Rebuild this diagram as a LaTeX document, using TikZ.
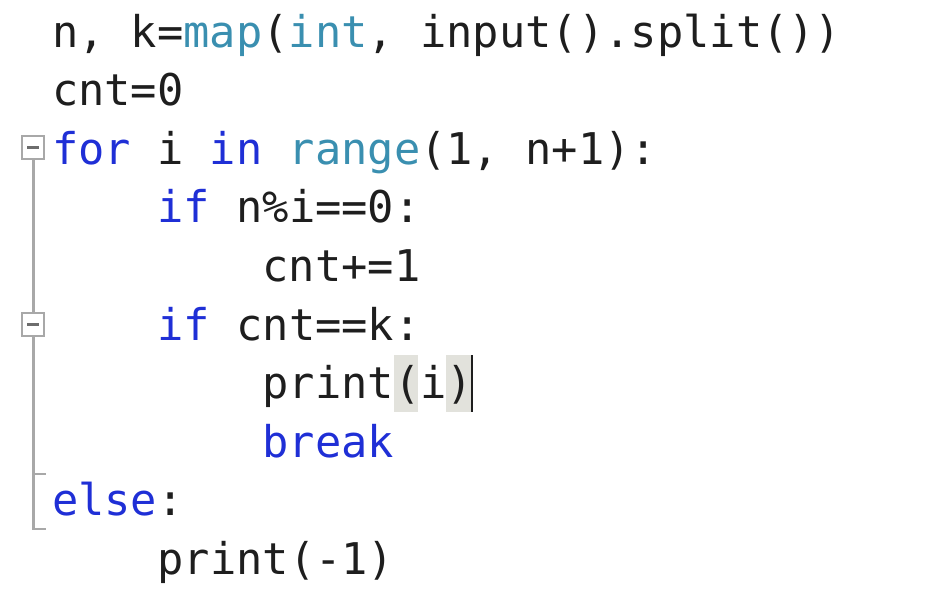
\documentclass[tikz,border=0pt]{standalone}
\usepackage{fontspec}
\usepackage{tikz}
\usetikzlibrary{positioning}
\newfontfamily\codefont[WordSpace={1,0,0}]{DejaVu Sans Mono}
\definecolor{kwblue}{HTML}{1F2FD6}
\definecolor{bitteal}{HTML}{3A8FB0}
\definecolor{codeblack}{HTML}{1E1E1E}
\definecolor{foldgray}{HTML}{A8A8A8}
\definecolor{matchgray}{HTML}{E2E2DC}
\newcommand{\kw}[1]{\textcolor{kwblue}{#1}}
\newcommand{\bi}[1]{\textcolor{bitteal}{#1}}

\begin{document}
\begin{tikzpicture}[x=1pt,y=-1pt,
		every node/.style={inner sep=0pt,outer sep=0pt},
		codeline/.style={anchor=base west,text=codeblack,
			font=\codefont\fontsize{43.7}{58}\selectfont},
		foldbox/.style={draw=foldgray,fill=white,line width=2.2pt,
			minimum width=22pt,minimum height=23pt},
		foldline/.style={draw=foldgray,line width=2.6pt},
		matchbox/.style={fill=matchgray,minimum width=24pt,minimum height=57pt}]
		
		\useasboundingbox (0,0) rectangle (948,605);
		
		% bracket match highlight and caret
		\node[matchbox,anchor=north west] (open-i) at (394,355) {};
		\node[matchbox,anchor=north west,minimum width=27pt] (close-i) at (446,355) {};
		\coordinate (caret-top) at (472,355);
		\coordinate (caret-bot) at (472,412);
		\draw[line width=2pt,codeblack] (caret-top) -- (caret-bot);
		
		% code lines
		\node[codeline] (line-1) at (52,47) {n, k=\bi{map}(\bi{int}, input().split())};
		\node[codeline] (line-2) at (52,105.6) {cnt=0};
		\node[codeline] (line-3) at (52,164.2) {\kw{for} i \kw{in} \bi{range}(1, n+1):};
		\node[codeline] (line-4) at (157.5,222.8) {\kw{if} n\%i==0:};
		\node[codeline] (line-5) at (262.5,281.4) {cnt+=1};
		\node[codeline] (line-6) at (157.5,340) {\kw{if} cnt==k:};
		\node[codeline] (line-7) at (262.5,398.6) {print(i)};
		\node[codeline] (line-8) at (262.5,457.2) {\kw{break}};
		\node[codeline] (line-9) at (52,515.8) {\kw{else}:};
		\node[codeline] (line-10) at (157.5,574.4) {print(-1)};
		
		% outlining margin
		\coordinate (tick-break) at (33.5,474);
		\coordinate (tick-else) at (33.5,529);
		\draw[foldline] (33.5,148) -- (tick-else) -- ++(12,0);
		\draw[foldline] (tick-break) -- ++(12,0);
		\node[foldbox] (fold-for) at (33,147.5) {};
		\node[foldbox] (fold-if) at (33,324.5) {};
		\draw[line width=2.6pt,codeblack!65] ([xshift=-6pt]fold-for.center) -- ([xshift=6pt]fold-for.center);
		\draw[line width=2.6pt,codeblack!65] ([xshift=-6pt]fold-if.center) -- ([xshift=6pt]fold-if.center);
		\end{tikzpicture}
\end{document}
